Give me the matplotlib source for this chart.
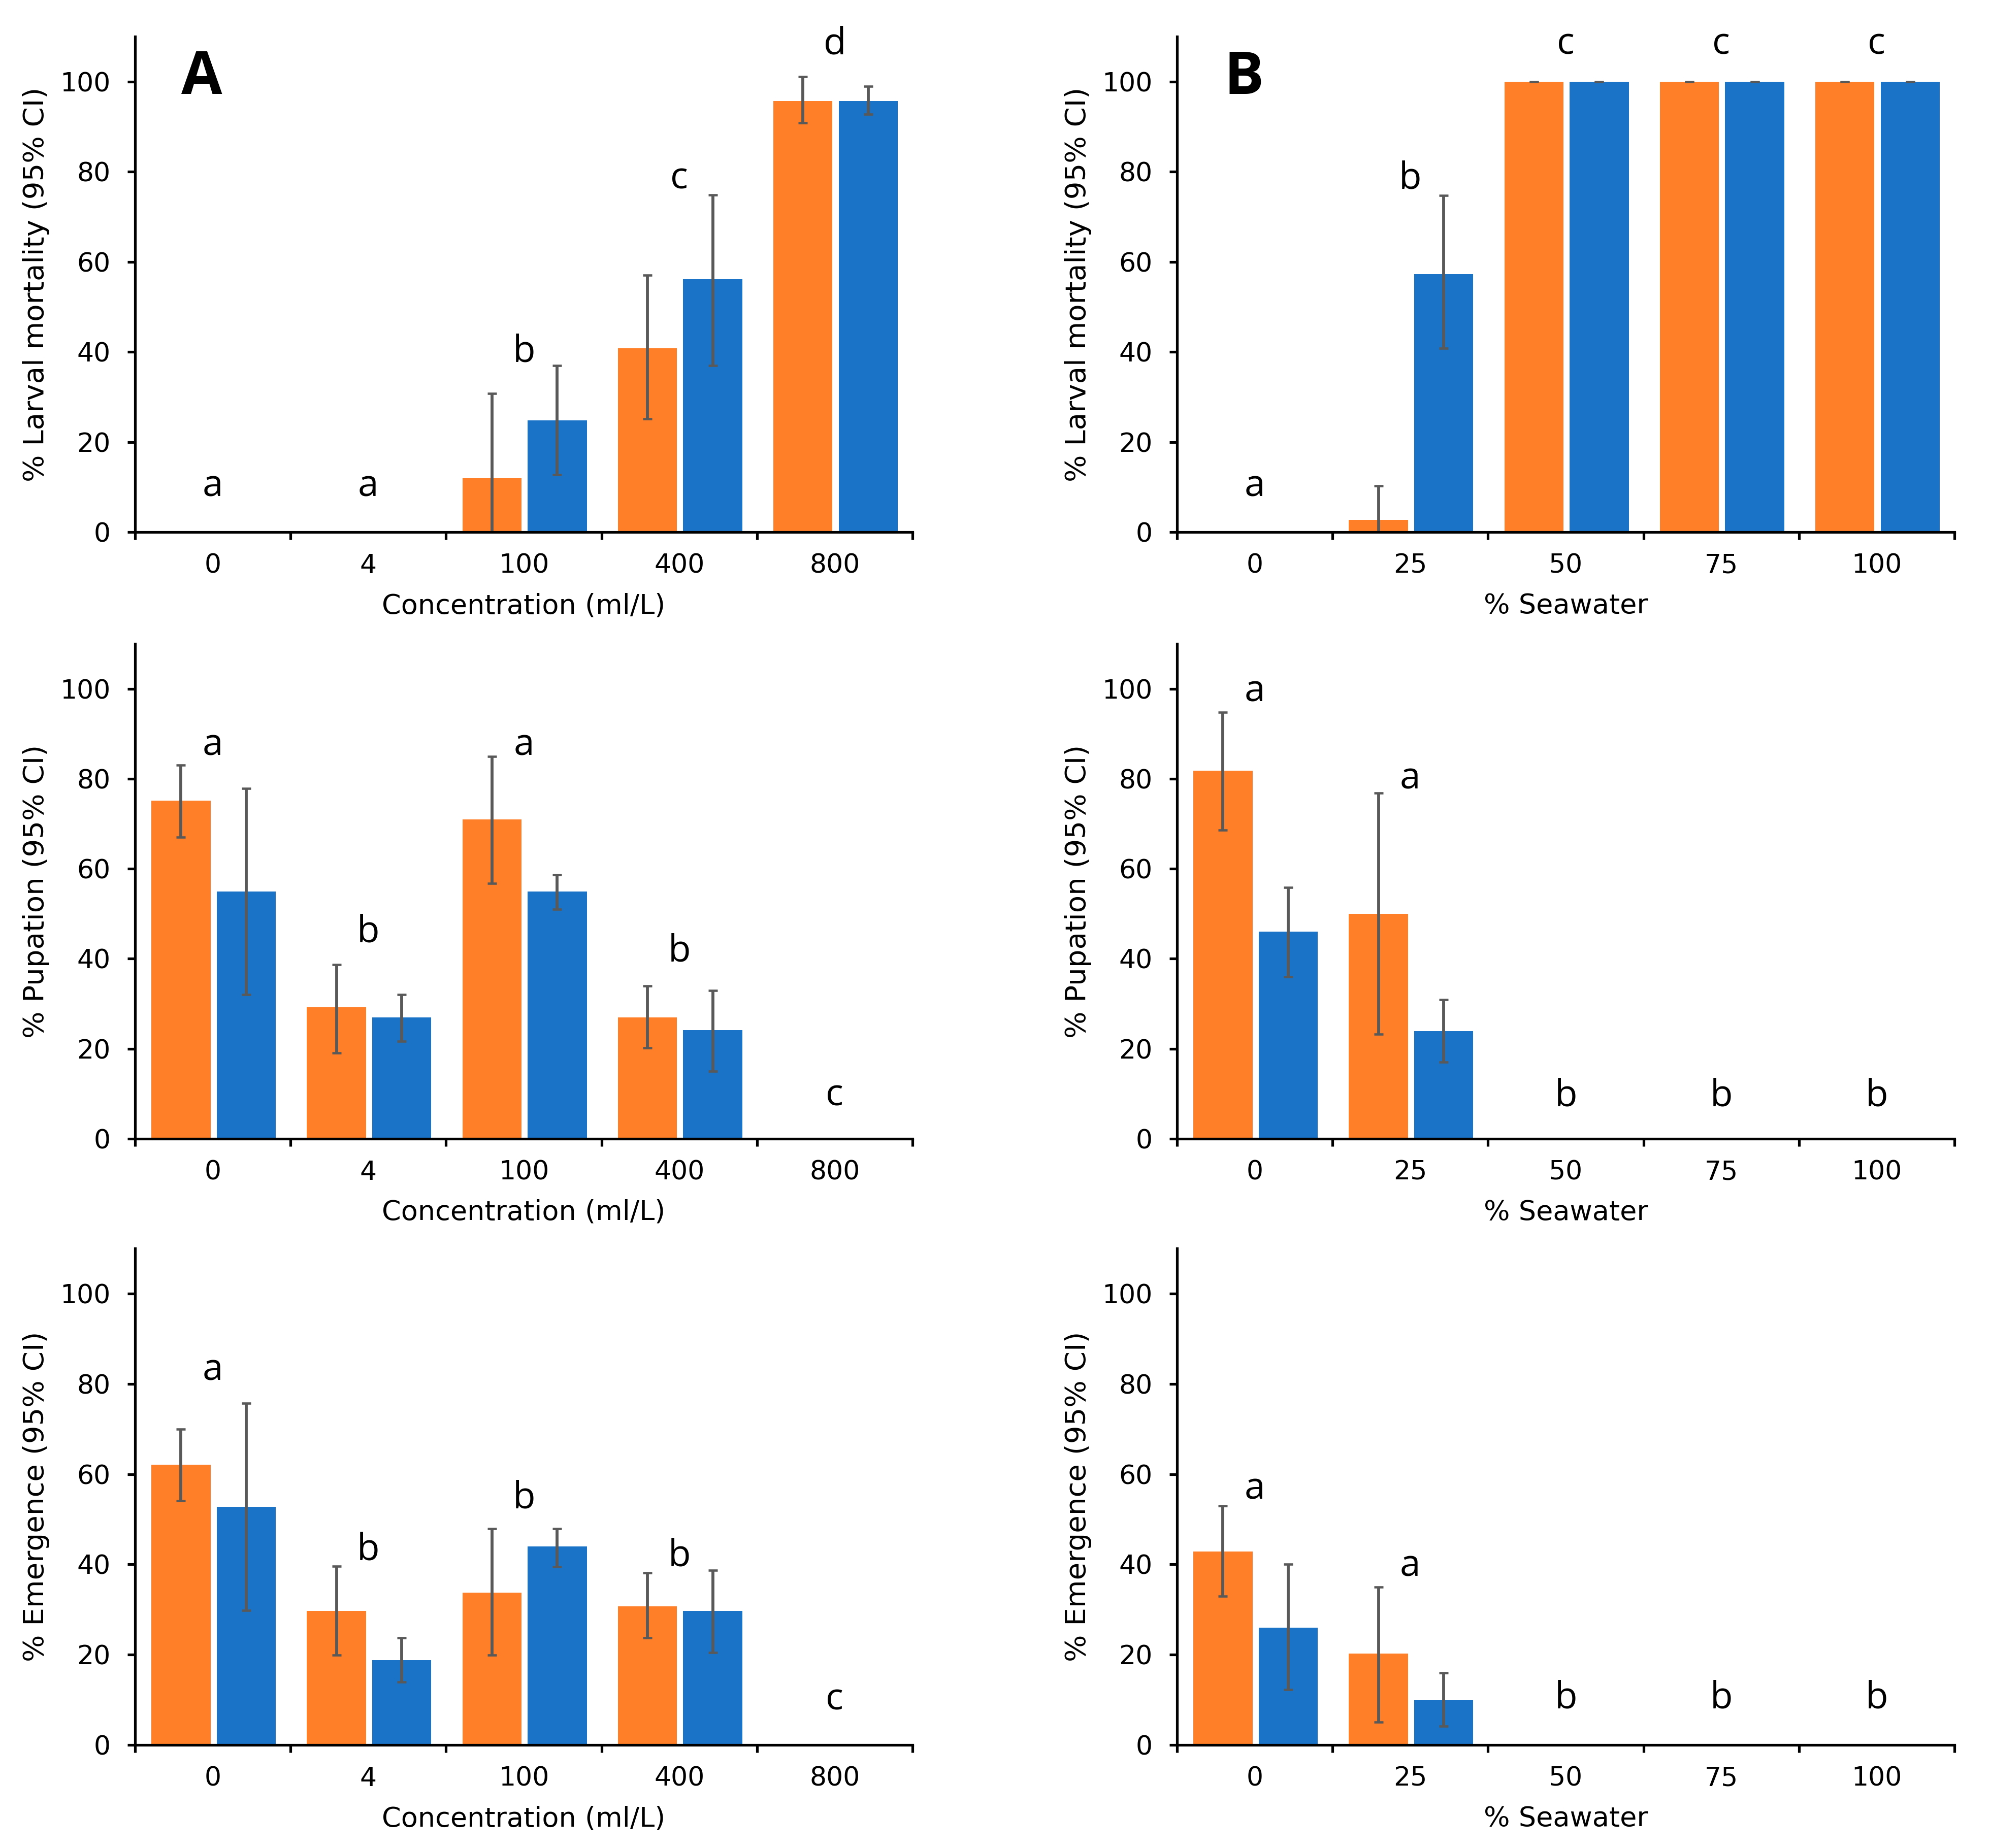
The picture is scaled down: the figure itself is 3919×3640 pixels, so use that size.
import numpy as np
import matplotlib
matplotlib.use("Agg")
import matplotlib.pyplot as plt
from matplotlib.ticker import FixedLocator, NullFormatter

# ---------------- data ----------------
conc_labels = ["0", "4", "100", "400", "800"]
sea_labels = ["0", "25", "50", "75", "100"]

# Panel A (concentration) - larval mortality
mortA_org = [0, 0, 12.0, 40.8, 95.7]
mortA_org_lo = [0, 0, 0, 25.1, 90.8]
mortA_org_hi = [0, 0, 30.8, 57.0, 101.1]
mortA_blu = [0, 0, 24.8, 56.1, 95.7]
mortA_blu_lo = [0, 0, 12.7, 37.0, 92.8]
mortA_blu_hi = [0, 0, 37.0, 74.8, 99.0]
mortA_letters = ["a", "a", "b", "c", "d"]
mortA_letter_y = [8, 8, 37.8, 76.2, 106.1]

# Panel B (seawater) - larval mortality
mortB_org = [0, 2.7, 100, 100, 100]
mortB_org_lo = [0, 0, 100, 100, 100]
mortB_org_hi = [0, 10.3, 100, 100, 100]
mortB_blu = [0, 57.3, 100, 100, 100]
mortB_blu_lo = [0, 40.8, 100, 100, 100]
mortB_blu_hi = [0, 74.7, 100, 100, 100]
mortB_letters = ["a", "b", "c", "c", "c"]
mortB_letter_y = [8, 76.2, 106.1, 106.1, 106.1]

# Panel A - pupation
pupA_org = [75.1, 29.2, 71.0, 27.0, 0]
pupA_org_lo = [67.0, 19.1, 56.8, 20.2, 0]
pupA_org_hi = [83.0, 38.7, 85.0, 34.0, 0]
pupA_blu = [55.0, 27.0, 55.0, 24.1, 0]
pupA_blu_lo = [32.0, 21.7, 51.0, 15.0, 0]
pupA_blu_hi = [77.8, 32.0, 58.7, 33.0, 0]
pupA_letters = ["a", "b", "a", "b", "c"]
pupA_letter_y = [85.2, 43.7, 85.2, 39.4, 7.4]

# Panel B - pupation
pupB_org = [81.8, 50.0, 0, 0, 0]
pupB_org_lo = [68.6, 23.2, 0, 0, 0]
pupB_org_hi = [94.8, 76.8, 0, 0, 0]
pupB_blu = [46.0, 23.9, 0, 0, 0]
pupB_blu_lo = [36.0, 17.0, 0, 0, 0]
pupB_blu_hi = [55.8, 30.9, 0, 0, 0]
pupB_letters = ["a", "a", "b", "b", "b"]
pupB_letter_y = [97.2, 77.8, 7.3, 7.3, 7.3]

# Panel A - emergence
emA_org = [62.1, 29.7, 33.7, 30.7, 0]
emA_org_lo = [54.1, 19.9, 19.9, 23.7, 0]
emA_org_hi = [70.0, 39.6, 47.9, 38.1, 0]
emA_blu = [52.8, 18.8, 44.0, 29.7, 0]
emA_blu_lo = [29.8, 13.9, 39.5, 20.5, 0]
emA_blu_hi = [75.7, 23.7, 47.9, 38.7, 0]
emA_letters = ["a", "b", "b", "b", "c"]
emA_letter_y = [80.8, 41.0, 52.5, 39.7, 7.8]

# Panel B - emergence
emB_org = [42.9, 20.2, 0, 0, 0]
emB_org_lo = [32.9, 5.1, 0, 0, 0]
emB_org_hi = [53.0, 35.0, 0, 0, 0]
emB_blu = [26.0, 10.0, 0, 0, 0]
emB_blu_lo = [12.3, 4.2, 0, 0, 0]
emB_blu_hi = [40.0, 16.0, 0, 0, 0]
emB_letters = ["a", "a", "b", "b", "b"]
emB_letter_y = [54.5, 37.4, 8.1, 8.1, 8.1]

yticks = [0, 20, 40, 60, 80, 100]

# ---------------- style ----------------
ORANGE = "#FE7F27"
BLUE = "#1A73C7"
ERRC = "#595959"
plt.rcParams["font.family"] = ["DejaVu Sans"]

fig = plt.figure(figsize=(3919 / 300, 3640 / 300), dpi=300)

col_left = [266 / 3919, 2318 / 3919]
col_w = 1531 / 3919
row_bottom = [1 - 1048 / 3640, 1 - 2243 / 3640, 1 - 3437 / 3640]
row_h = [976 / 3640, 975 / 3640, 978 / 3640]

panels = [
    (0, 0, mortA_org, mortA_org_lo, mortA_org_hi, mortA_blu, mortA_blu_lo, mortA_blu_hi,
     mortA_letters, mortA_letter_y, conc_labels, "Concentration (ml/L)", "% Larval mortality (95% CI)", "A"),
    (0, 1, mortB_org, mortB_org_lo, mortB_org_hi, mortB_blu, mortB_blu_lo, mortB_blu_hi,
     mortB_letters, mortB_letter_y, sea_labels, "% Seawater", "% Larval mortality (95% CI)", "B"),
    (1, 0, pupA_org, pupA_org_lo, pupA_org_hi, pupA_blu, pupA_blu_lo, pupA_blu_hi,
     pupA_letters, pupA_letter_y, conc_labels, "Concentration (ml/L)", "% Pupation (95% CI)", None),
    (1, 1, pupB_org, pupB_org_lo, pupB_org_hi, pupB_blu, pupB_blu_lo, pupB_blu_hi,
     pupB_letters, pupB_letter_y, sea_labels, "% Seawater", "% Pupation (95% CI)", None),
    (2, 0, emA_org, emA_org_lo, emA_org_hi, emA_blu, emA_blu_lo, emA_blu_hi,
     emA_letters, emA_letter_y, conc_labels, "Concentration (ml/L)", "% Emergence (95% CI)", None),
    (2, 1, emB_org, emB_org_lo, emB_org_hi, emB_blu, emB_blu_lo, emB_blu_hi,
     emB_letters, emB_letter_y, sea_labels, "% Seawater", "% Emergence (95% CI)", None),
]

W = 0.38
OFF_O = -0.205
OFF_B = 0.215

for (r, c, org, olo, ohi, blu, blo, bhi, letters, ly, xlabels, xlab, ylab, tag) in panels:
    ax = fig.add_axes([col_left[c], row_bottom[r], col_w, row_h[r]])
    x = np.arange(len(xlabels))
    org = np.array(org, float); blu = np.array(blu, float)
    olo = np.array(olo, float); ohi = np.array(ohi, float)
    blo = np.array(blo, float); bhi = np.array(bhi, float)
    ax.bar(x + OFF_O, org, W, color=ORANGE, linewidth=0, zorder=2)
    ax.bar(x + OFF_B, blu, W, color=BLUE, linewidth=0, zorder=2)
    for off, v, lo, hi in [(OFF_O, org, olo, ohi), (OFF_B, blu, blo, bhi)]:
        m = hi > 0
        ax.errorbar(x[m] + off, v[m], yerr=[v[m] - lo[m], hi[m] - v[m]], fmt="none",
                    ecolor=ERRC, elinewidth=1.4, capsize=2.1, capthick=1.1, zorder=3)
    for xi, t, yy in zip(x, letters, ly):
        ax.text(xi, yy, t, ha="center", va="baseline", fontsize=17.5,
                family=["Open Sans", "DejaVu Sans"], zorder=4)
    if tag:
        ax.text(-0.07, 97.3, tag, ha="center", va="baseline", fontsize=28,
                fontweight="bold", family=["Open Sans", "DejaVu Sans"], zorder=4)

    ax.set_xlim(-0.5, 4.5)
    ax.set_ylim(0, 110)
    for s in ["top", "right"]:
        ax.spines[s].set_visible(False)
    for s in ["left", "bottom"]:
        ax.spines[s].set_linewidth(1.25)
        ax.spines[s].set_zorder(5)
    ax.set_yticks(yticks)
    ax.tick_params(axis="y", direction="out", length=3.6, width=1.25, pad=8, labelsize=12.5)
    ax.set_xticks(x)
    ax.set_xticklabels(xlabels)
    ax.xaxis.set_minor_locator(FixedLocator(np.arange(-0.5, 5.0, 1.0)))
    ax.xaxis.set_minor_formatter(NullFormatter())
    ax.tick_params(axis="x", which="major", length=0, pad=10, labelsize=12.5)
    ax.tick_params(axis="x", which="minor", direction="out", length=3.6, width=1.25)
    ax.set_xlabel(xlab, fontsize=13)
    ax.xaxis.set_label_coords(0.5, -0.122)
    ax.set_ylabel(ylab, fontsize=13.5)
    ax.yaxis.set_label_coords(-0.110, 0.5)

fig.savefig("out.png", dpi=300)
